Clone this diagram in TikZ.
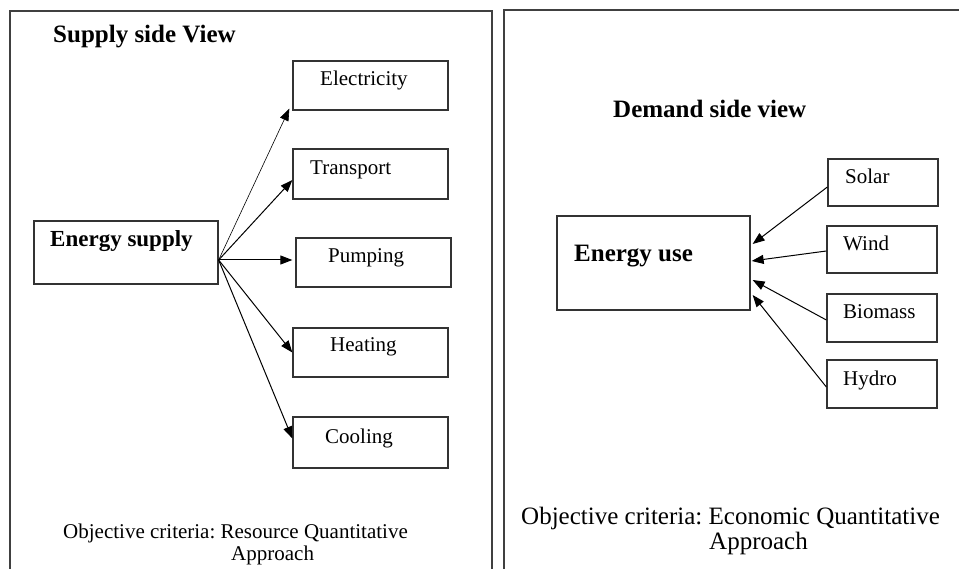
\documentclass[tikz,border=0pt]{standalone}
\usepackage{fontspec}
\setmainfont{Liberation Serif}
\usetikzlibrary{arrows.meta}
\frenchspacing

\begin{document}
\begin{tikzpicture}[x=1pt,y=-1pt]
        \tikzstyle{panel}=[draw=black!75,line width=1.1pt]
        \tikzstyle{box}=[draw=black!80,line width=1.3pt,rectangle,inner sep=0pt]
        \tikzstyle{lbl}=[font=\fontsize{21}{24}\selectfont,inner sep=0pt,anchor=base west]
        \tikzstyle{head}=[font=\bfseries\fontsize{25}{28}\selectfont,inner sep=0pt,anchor=base west]
        \tikzstyle{arr}=[-{Triangle[length=12pt,width=9pt]},line width=1pt]
        \clip (0,0) rectangle (959,569);
        \fill[white] (0,0) rectangle (959,569);
        \draw[panel] (10,11) rectangle (492,600);
        \draw[panel] (504,10) rectangle (990,600);
        % supply side
        \node[head] (suphead) at (53,43) {Supply side View};
        \node[box,minimum width=184pt,minimum height=63pt] (es) at (126,252.5) {};
        \node[head,font=\bfseries\fontsize{23}{26}\selectfont] (estxt) at (50,247) {Energy supply};
        \node[box,minimum width=155pt,minimum height=49pt] (elec) at (370.5,85.5) {};
        \node[box,minimum width=155pt,minimum height=50pt] (trans) at (370.5,174) {};
        \node[box,minimum width=155pt,minimum height=49pt] (pump) at (373.5,262.5) {};
        \node[box,minimum width=155pt,minimum height=49pt] (heat) at (370.5,352.5) {};
        \node[box,minimum width=155pt,minimum height=51pt] (cool) at (370.5,442.5) {};
        \node[lbl] (electxt) at (320,86) {Electricity};
        \node[lbl] (transtxt) at (310,175) {Transport};
        \node[lbl] (pumptxt) at (328,263) {Pumping};
        \node[lbl] (heattxt) at (330,352) {Heating};
        \node[lbl] (cooltxt) at (325,443) {Cooling};
        \coordinate (fan) at ([yshift=-7.5pt]es.east);
        \draw[arr,line width=0.6pt] (fan) -- ([xshift=-3pt,yshift=2pt]elec.south west);
        \foreach \t/\s/\d in {trans/-6/0, pump/2.5/-3, heat/0/0, cool/4/0}
            \draw[arr] (fan) -- ([xshift=\d pt,yshift=\s pt]\t.west);
        \node[lbl] (critl1) at (63,538) {Objective criteria: Resource Quantitative};
        \node[lbl] (critl2) at (231,560) {Approach};
        % demand side
        \node[head] (demhead) at (613,118) {Demand side view};
        \node[box,minimum width=193pt,minimum height=94pt] (use) at (653.5,263) {};
        \node[head] (usetxt) at (574,262) {Energy use};
        \node[box,minimum width=110pt,minimum height=47pt] (solar) at (883,182.5) {};
        \node[box,minimum width=110pt,minimum height=47pt] (wind) at (882,249.5) {};
        \node[box,minimum width=110pt,minimum height=48pt] (bio) at (882,318) {};
        \node[box,minimum width=110pt,minimum height=48pt] (hydro) at (882,384) {};
        \node[lbl] (solartxt) at (845,184) {Solar};
        \node[lbl] (windtxt) at (843,251) {Wind};
        \node[lbl] (biotxt) at (843,319) {Biomass};
        \node[lbl] (hydrotxt) at (843,386) {Hydro};
        \draw[arr] ([yshift=-4.5pt]solar.west) -- ([xshift=2pt,yshift=19pt]use.east);
        \draw[arr] ([yshift=-1.5pt]wind.west) -- ([xshift=1pt,yshift=2pt]use.east);
        \draw[arr] ([yshift=-2pt]bio.west) -- ([xshift=2pt,yshift=-17pt]use.east);
        \draw[arr] ([yshift=-3pt]hydro.west) -- ([xshift=2pt,yshift=-32pt]use.east);
        \node[lbl,font=\fontsize{25}{28}\selectfont] (critr1) at (521,524) {Objective criteria: Economic Quantitative};
        \node[lbl,font=\fontsize{25}{28}\selectfont] (critr2) at (709,549) {Approach};
\end{tikzpicture}
\end{document}
